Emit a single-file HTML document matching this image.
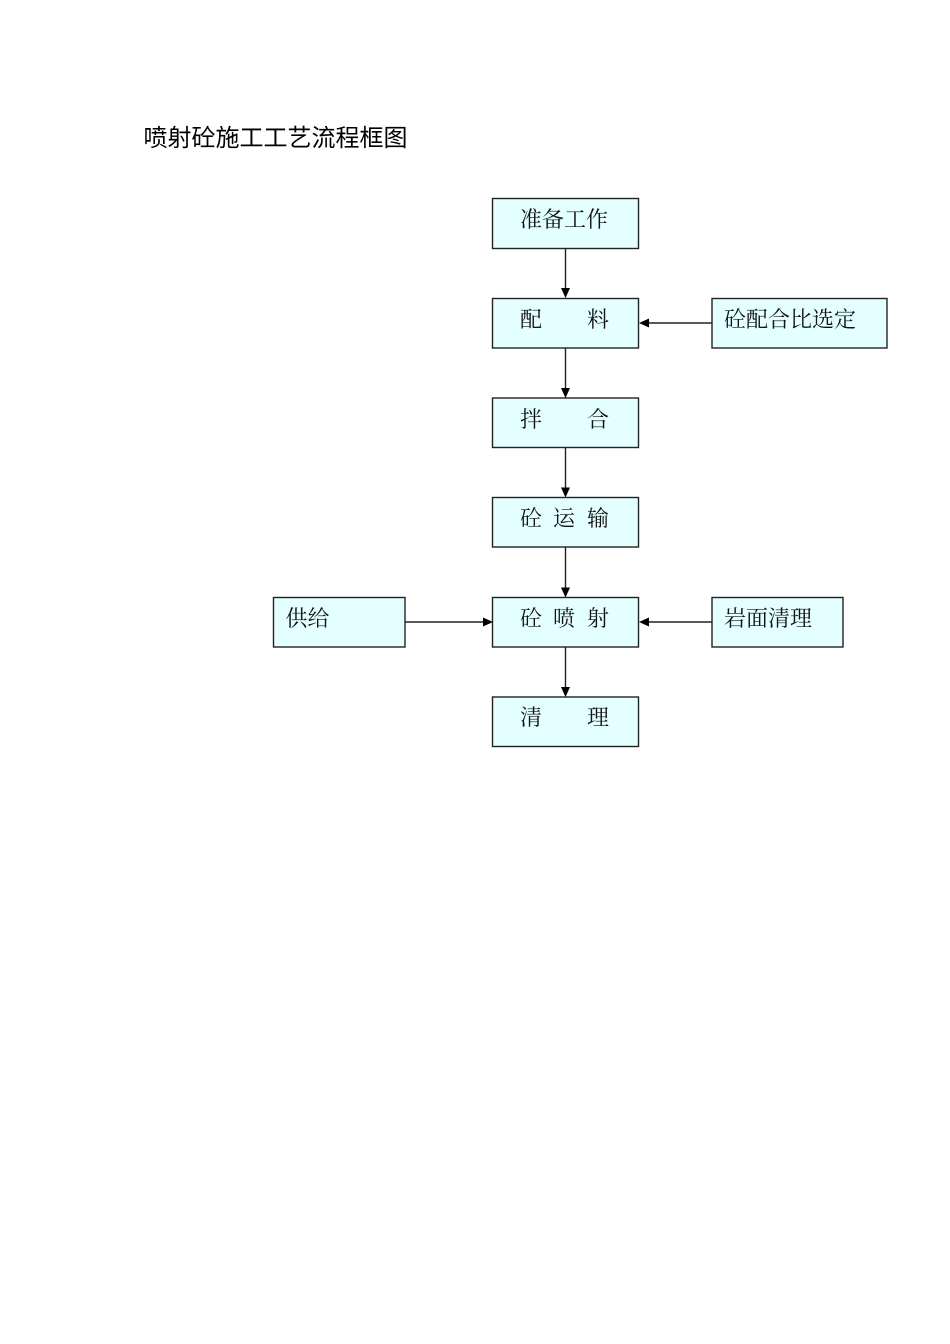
<!DOCTYPE html>
<html><head><meta charset="utf-8">
<style>
html,body{margin:0;padding:0;background:#fff}
#p{position:relative;width:950px;height:1344px;overflow:hidden}
svg{position:absolute;left:0;top:0}
text{fill:#111}
.t{font-family:"Liberation Serif","Noto Serif CJK SC",serif;font-size:22px}
.h{font-family:"Liberation Sans","Noto Sans CJK SC",sans-serif;font-size:24px;fill:#000}
rect{fill:#e3ffff;stroke:#222;stroke-width:1.4}
line{stroke:#222;stroke-width:1.4}
polygon{fill:#000}
</style></head><body><div id="p">
<svg width="950" height="1344" viewBox="0 0 950 1344" xmlns="http://www.w3.org/2000/svg">
<text class="h" x="143.5" y="146">喷射砼施工工艺流程框图</text>

<rect x="492.5" y="198.5" width="146" height="50"/>
<rect x="492.5" y="298.5" width="146" height="49.5"/>
<rect x="492.5" y="398" width="146" height="49.5"/>
<rect x="492.5" y="497.5" width="146" height="49.5"/>
<rect x="492.5" y="597.5" width="146" height="49.5"/>
<rect x="492.5" y="697" width="146" height="49.5"/>
<rect x="712" y="298.5" width="175" height="49.5"/>
<rect x="712" y="597.5" width="131" height="49.5"/>
<rect x="273.5" y="597.5" width="131.5" height="49.5"/>

<line x1="565.5" y1="248.5" x2="565.5" y2="290"/><polygon points="561,288 570,288 565.5,298"/>
<line x1="565.5" y1="348" x2="565.5" y2="390"/><polygon points="561,388 570,388 565.5,398"/>
<line x1="565.5" y1="447.5" x2="565.5" y2="489"/><polygon points="561,487.5 570,487.5 565.5,497.5"/>
<line x1="565.5" y1="547" x2="565.5" y2="589"/><polygon points="561,587.5 570,587.5 565.5,597.5"/>
<line x1="565.5" y1="647" x2="565.5" y2="689"/><polygon points="561,687 570,687 565.5,697"/>
<line x1="712" y1="323" x2="647" y2="323"/><polygon points="649,318.5 649,327.5 639,323"/>
<line x1="712" y1="622" x2="647" y2="622"/><polygon points="649,617.5 649,626.5 639,622"/>
<line x1="405" y1="622" x2="485" y2="622"/><polygon points="483,617.5 483,626.5 493,622"/>

<text class="t" x="520" y="227">准备工作</text>
<text class="t" x="520" y="327">配</text><text class="t" x="587" y="327">料</text>
<text class="t" x="520" y="427">拌</text><text class="t" x="587" y="427">合</text>
<text class="t" x="520" y="526">砼</text><text class="t" x="553" y="526">运</text><text class="t" x="587" y="526">输</text>
<text class="t" x="520" y="626">砼</text><text class="t" x="553" y="626">喷</text><text class="t" x="587" y="626">射</text>
<text class="t" x="520" y="725">清</text><text class="t" x="587" y="725">理</text>
<text class="t" x="724" y="327">砼配合比选定</text>
<text class="t" x="724" y="626">岩面清理</text>
<text class="t" x="285.5" y="626">供给</text>
</svg>
</div></body></html>
